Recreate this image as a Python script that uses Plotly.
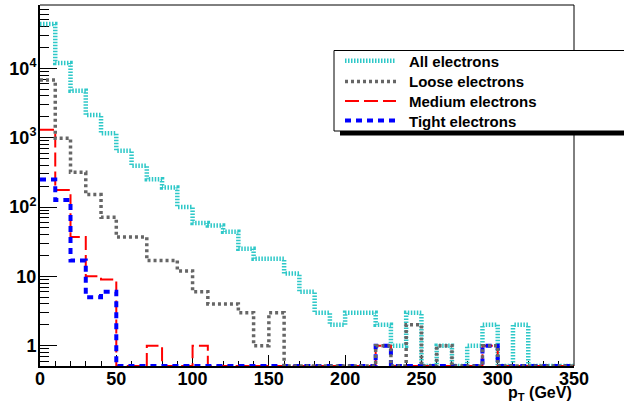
import numpy as np
import plotly.graph_objects as go

# ---- data (10 GeV bins, 0..350 GeV) ----
bin_edges = list(range(0, 360, 10))
all_electrons = [43500, 11900, 4750, 2120, 1155, 648, 394, 251, 191, 100,
                 59, 54, 44, 25, 18, 18, 11, 6, 3, 2,
                 3, 3, 2, 1, 3, 0, 1, 0, 1, 2,
                 0, 2, 0, 0, 0]
loose_electrons = [6800, 980, 316, 151, 71, 37, 37, 17, 17, 12,
                   6, 4, 4, 3, 1, 3, 0, 0, 0, 0,
                   0, 0, 1, 0, 2, 0, 1, 0, 0, 1,
                   0, 0, 0, 0, 0]
medium_electrons = [1300, 176, 37, 10, 9, 0, 0, 1, 0, 0,
                    1, 0, 0, 0, 0, 0, 0, 0, 0, 0,
                    0, 0, 1, 0, 0, 0, 0, 0, 0, 1,
                    0, 0, 0, 0, 0]
tight_electrons = [250, 126, 17, 5, 6, 0, 0, 0, 0, 0,
                   0, 0, 0, 0, 0, 0, 0, 0, 0, 0,
                   0, 0, 1, 0, 0, 0, 0, 0, 0, 1,
                   0, 0, 0, 0, 0]
series_names = ["All electrons", "Loose electrons", "Medium electrons", "Tight electrons"]
y_tick_vals = [1, 10, 100, 1000, 10000]
y_tick_text = ["1", "10", "10<sup>2</sup>", "10<sup>3</sup>", "10<sup>4</sup>"]
x_tick_vals = [0, 50, 100, 150, 200, 250, 300, 350]

# ---- layout geometry ----
W, H = 624, 405
ML, MR, MT, MB = 40, 50, 5, 39
PW, PH = W - ML - MR, H - MT - MB
YLO, YHI = np.log10(0.51), 4.913


def px(x):
    return (x - ML) / PW


def py(y):
    return (H - MB - y) / PH


FLOOR = 10 ** YLO

styles = {
    "All electrons": dict(color="#2EC8C8", width=4.5, dash="1.5px,1.5px"),
    "Loose electrons": dict(color="#666666", width=3.5, dash="3px,3px"),
    "Medium electrons": dict(color="#FF0000", width=2, dash="14px,5px"),
    "Tight electrons": dict(color="#0000FF", width=4, dash="6px,5px"),
}
data = {
    "All electrons": all_electrons,
    "Loose electrons": loose_electrons,
    "Medium electrons": medium_electrons,
    "Tight electrons": tight_electrons,
}

fig = go.Figure()
draw_order = ["All electrons", "Medium electrons", "Tight electrons", "Loose electrons"]
for name in draw_order:
    counts = np.array(data[name], dtype=float)
    shown = np.where(counts > 0, counts, FLOOR)
    yv = list(shown) + [shown[-1]]
    fig.add_trace(go.Scatter(
        x=bin_edges, y=yv, mode="lines", line_shape="hv", name=name,
        line=styles[name], showlegend=False, hoverinfo="skip"))

minor_y = [m * 10 ** d for d in range(-1, 5) for m in range(2, 10)]
minor_y = [v for v in minor_y if FLOOR <= v <= 10 ** YHI]

tick_font = dict(family="Liberation Sans, Arial, sans-serif", size=18, color="black")

fig.update_layout(
    width=W, height=H,
    margin=dict(l=ML, r=MR, t=MT, b=MB, pad=0),
    paper_bgcolor="white", plot_bgcolor="white",
    showlegend=False,
    font=dict(family="Liberation Sans, Arial, sans-serif", color="black"),
    xaxis=dict(range=[0, 350], tickvals=x_tick_vals,
               ticktext=[f"<b>{v}</b>" for v in x_tick_vals],
               ticks="inside", ticklen=11, tickwidth=1, tickcolor="black",
               minor=dict(dtick=10, tick0=0, ticks="inside", ticklen=5, tickwidth=1, tickcolor="black"),
               showline=True, linewidth=2, linecolor="black", mirror=False,
               showgrid=False, zeroline=False, tickfont=tick_font, layer="below traces",
               ticklabelstandoff=-5),
    yaxis=dict(type="log", range=[YLO, YHI], tickvals=y_tick_vals,
               ticktext=[f"<b>{t}</b>" for t in y_tick_text],
               ticks="inside", ticklen=17, tickwidth=1, tickcolor="black",
               minor=dict(tickvals=minor_y, ticks="inside", ticklen=9, tickwidth=1, tickcolor="black"),
               showline=True, linewidth=2, linecolor="black", mirror=False,
               showgrid=False, zeroline=False, tickfont=tick_font, layer="below traces",
               ticklabelstandoff=-2),
)

shapes = [
    # top & right frame
    dict(type="line", xref="paper", yref="paper", x0=0, x1=1, y0=1, y1=1,
         line=dict(color="black", width=1)),
    dict(type="line", xref="paper", yref="paper", x0=1, x1=1, y0=0, y1=1,
         line=dict(color="black", width=1)),
    # legend shadow and box
    dict(type="rect", xref="paper", yref="paper", x0=px(340), x1=px(700), y0=py(135.5), y1=py(130),
         fillcolor="black", line=dict(width=0)),
    dict(type="rect", xref="paper", yref="paper", x0=px(334), x1=px(700), y0=py(131), y1=py(50.5),
         fillcolor="white", line=dict(color="black", width=1)),
]
annotations = []
legend_rows = [60.7, 81.5, 101, 120.5]
for name, ry in zip(series_names, legend_rows):
    st = styles[name]
    shapes.append(dict(type="line", xref="paper", yref="paper", x0=px(345), x1=px(396),
                       y0=py(ry), y1=py(ry), line=dict(color=st["color"], width=st["width"], dash=st["dash"])))
    annotations.append(dict(text=f"<b>{name}</b>", xref="paper", yref="paper", x=px(407), y=py(ry + 0.5),
                            xanchor="left", yanchor="middle", showarrow=False,
                            font=dict(family="Liberation Sans, Arial, sans-serif", size=15, color="black")))

annotations.append(dict(text="<b>p<sub>T</sub> (GeV)</b>", xref="paper", yref="paper",
                        x=px(574), y=py(393), xanchor="right", yanchor="middle", showarrow=False,
                        font=dict(family="Liberation Sans, Arial, sans-serif", size=16, color="black")))

fig.update_layout(shapes=shapes, annotations=annotations)
fig.write_html("out.html")
